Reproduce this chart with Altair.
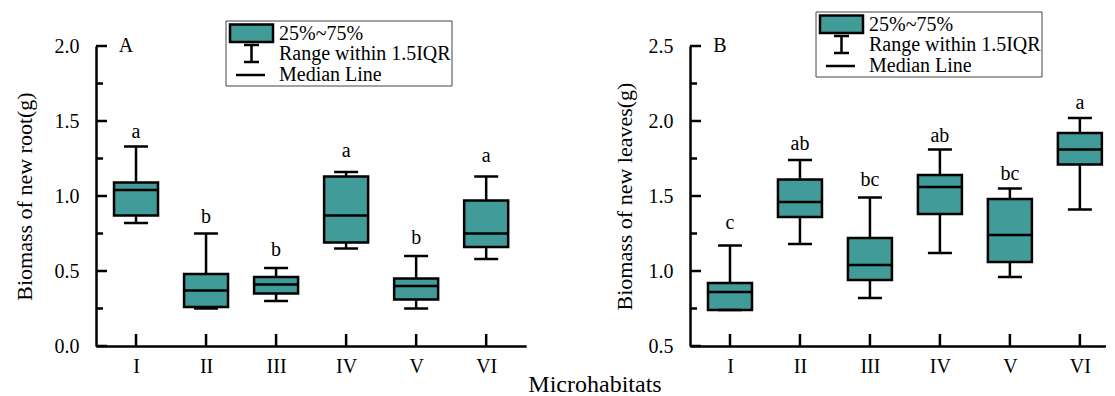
import json
import altair as alt
import pandas as pd

# ---------------- data ----------------
categories = ["I", "II", "III", "IV", "V", "VI"]

# Panel A: biomass of new root (g)
root_whisker_high = [1.33, 0.75, 0.52, 1.16, 0.60, 1.13]
root_q3 = [1.09, 0.48, 0.46, 1.13, 0.45, 0.97]
root_median = [1.04, 0.37, 0.41, 0.87, 0.40, 0.75]
root_q1 = [0.87, 0.26, 0.35, 0.69, 0.31, 0.66]
root_whisker_low = [0.82, 0.25, 0.30, 0.65, 0.25, 0.58]
root_letters = ["a", "b", "b", "a", "b", "a"]
root_letter_y = [1.39, 0.82, 0.60, 1.26, 0.68, 1.23]

# Panel B: biomass of new leaves (g)
leaf_whisker_high = [1.17, 1.74, 1.49, 1.81, 1.55, 2.02]
leaf_q3 = [0.92, 1.61, 1.22, 1.64, 1.48, 1.92]
leaf_median = [0.86, 1.46, 1.04, 1.56, 1.24, 1.81]
leaf_q1 = [0.74, 1.36, 0.94, 1.38, 1.06, 1.71]
leaf_whisker_low = [0.74, 1.18, 0.82, 1.12, 0.96, 1.41]
leaf_letters = ["c", "ab", "bc", "ab", "bc", "a"]
leaf_letter_y = [1.28, 1.81, 1.57, 1.86, 1.61, 2.08]

root_major = [0.0, 0.5, 1.0, 1.5, 2.0]
root_minor = [0.25, 0.75, 1.25, 1.75]
leaf_major = [0.5, 1.0, 1.5, 2.0, 2.5]
leaf_minor = [0.75, 1.25, 1.75, 2.25]

legend_labels = ["25%~75%", "Range within 1.5IQR", "Median Line"]
x_title = "Microhabitats"

# ---------------- styles ----------------
FONT = "Liberation Serif"
TEAL = "#419b98"
H = 300
BAND = 71.7
BOX_W = 44
CAP_W = 24
LW = 2.5


def panel(whi, q3, med, q1, wlo, letters, letter_y, ydom, major, minor,
          ytitle, title_x, plabel, legend_xy, xdom, show_xtitle):
    width = (xdom[1] - xdom[0]) * BAND
    df = pd.DataFrame({
        "idx": list(range(1, len(categories) + 1)),
        "cat": categories,
        "whi": whi, "q3": q3, "med": med, "q1": q1, "wlo": wlo,
        "letter": letters, "ly": letter_y,
    })
    xaxis = alt.Axis(values=list(range(1, len(categories) + 1)),
                     labelExpr=f"{json.dumps(categories)}[datum.value - 1]",
                     title=None, ticks=False, labelPadding=10, labelFontSize=20,
                     domainWidth=LW, grid=False, labelFlush=False)
    yaxis = alt.Axis(values=major, format=".1f", ticks=False, labelPadding=17,
                     labelFontSize=20, title=ytitle, titleX=title_x, titleY=H / 2,
                     titleAngle=270, titleBaseline="middle", titleAlign="center",
                     titleFontSize=22, titleFontWeight="normal",
                     domainWidth=LW, grid=False)
    xs = alt.Scale(domain=xdom, nice=False, zero=False)
    ys = alt.Scale(domain=ydom, nice=False, zero=False)

    def X(f="idx"):
        return alt.X(f"{f}:Q", scale=xs, axis=xaxis)

    def Y(f):
        return alt.Y(f"{f}:Q", scale=ys, axis=yaxis)

    base = alt.Chart(df)
    whisk = base.mark_rule(color="black", strokeWidth=LW).encode(
        x=X(), y=Y("wlo"), y2="whi:Q")
    box = base.mark_bar(size=BOX_W, fill=TEAL, stroke="black", strokeWidth=LW,
                        orient="vertical").encode(x=X(), y=Y("q1"), y2="q3:Q")
    median = base.mark_tick(orient="horizontal", size=BOX_W, thickness=LW,
                            color="black", opacity=1).encode(x=X(), y=Y("med"))
    cap_hi = base.mark_tick(orient="horizontal", size=CAP_W, thickness=LW,
                            color="black", opacity=1).encode(x=X(), y=Y("whi"))
    cap_lo = base.mark_tick(orient="horizontal", size=CAP_W, thickness=LW,
                            color="black", opacity=1).encode(x=X(), y=Y("wlo"))
    lets = base.mark_text(font=FONT, fontSize=20, baseline="alphabetic",
                          color="black").encode(x=X(), y=Y("ly"), text="letter:N")

    majdf = pd.DataFrame({"v": major})
    mindf = pd.DataFrame({"v": minor})
    ymaj = alt.Chart(majdf).mark_rule(color="black", strokeWidth=LW).encode(
        y=Y("v"), x=alt.value(0), x2=alt.value(11))
    ymin = alt.Chart(mindf).mark_rule(color="black", strokeWidth=LW).encode(
        y=Y("v"), x=alt.value(0), x2=alt.value(7))
    xtk = base.mark_rule(color="black", strokeWidth=LW).encode(
        x=X(), y=alt.value(H), y2=alt.value(H - 12))

    one = pd.DataFrame({"t": [plabel]})
    lab = alt.Chart(one).mark_text(font=FONT, fontSize=20, baseline="middle",
                                   align="center", color="black").encode(
        x=alt.value(30), y=alt.value(0), text="t:N")

    lx, ly = legend_xy
    lbox = alt.Chart(one).mark_rect(fill="white", stroke="#444444", strokeWidth=1).encode(
        x=alt.value(lx), x2=alt.value(lx + 226), y=alt.value(ly), y2=alt.value(ly + 65))
    lsw = alt.Chart(one).mark_rect(fill=TEAL, stroke="black", strokeWidth=LW).encode(
        x=alt.value(lx + 4), x2=alt.value(lx + 47), y=alt.value(ly + 3.5), y2=alt.value(ly + 21))
    lw1 = alt.Chart(one).mark_rule(color="black", strokeWidth=LW).encode(
        x=alt.value(lx + 25.5), y=alt.value(ly + 24), y2=alt.value(ly + 41))
    lw2 = alt.Chart(one).mark_rule(color="black", strokeWidth=LW).encode(
        x=alt.value(lx + 18), x2=alt.value(lx + 33), y=alt.value(ly + 24))
    lw3 = alt.Chart(one).mark_rule(color="black", strokeWidth=LW).encode(
        x=alt.value(lx + 18), x2=alt.value(lx + 33), y=alt.value(ly + 41))
    lmed = alt.Chart(one).mark_rule(color="black", strokeWidth=LW).encode(
        x=alt.value(lx + 10), x2=alt.value(lx + 39), y=alt.value(ly + 54))
    ltexts = []
    for txt, dy in zip(legend_labels, [12.5, 32.5, 54]):
        ltexts.append(alt.Chart(pd.DataFrame({"t": [txt]})).mark_text(
            font=FONT, fontSize=20, align="left", baseline="middle", color="black").encode(
            x=alt.value(lx + 53), y=alt.value(ly + dy), text="t:N"))

    layers = [whisk, box, median, cap_hi, cap_lo, lets, ymaj, ymin, xtk, lab,
              lbox, lsw, lw1, lw2, lw3, lmed] + ltexts
    if show_xtitle:
        xt = alt.Chart(pd.DataFrame({"t": [x_title]})).mark_text(
            font=FONT, fontSize=24, align="center", baseline="alphabetic",
            color="black").encode(x=alt.value(499), y=alt.value(346), text="t:N")
        layers.append(xt)
    return alt.layer(*layers).properties(width=width, height=H)


left = panel(root_whisker_high, root_q3, root_median, root_q1, root_whisker_low,
             root_letters, root_letter_y, [0, 2], root_major, root_minor,
             "Biomass of new root(g)", -72, "A", (130, -25), [0.5, 6.5], True)
right = panel(leaf_whisker_high, leaf_q3, leaf_median, leaf_q1, leaf_whisker_low,
              leaf_letters, leaf_letter_y, [0.5, 2.5], leaf_major, leaf_minor,
              "Biomass of new leaves(g)", -66, "B", (126, -34), [0.5, 6.3], False)

chart = alt.hconcat(left, right, spacing=163, bounds="flush").properties(
    padding={"left": 5, "top": 3, "right": 0, "bottom": 0}
).configure_view(stroke=None).configure_axis(
    grid=False, labelFont=FONT, titleFont=FONT, labelColor="black",
    titleColor="black", domainColor="black"
).configure_text(font=FONT)

chart.save("out.html", embed_options={"renderer": "svg", "actions": False})
